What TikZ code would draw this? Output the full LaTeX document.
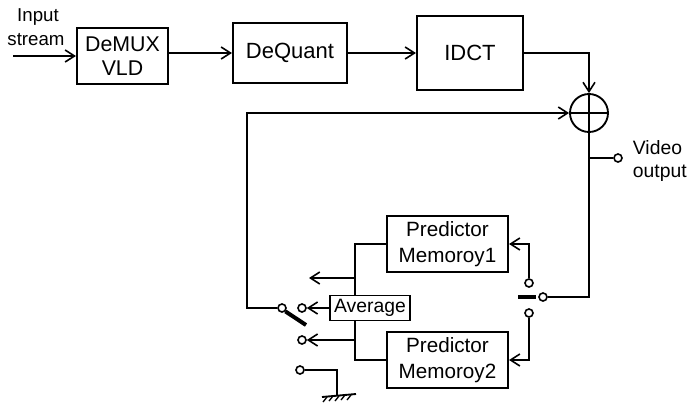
\documentclass[tikz,border=0pt]{standalone}
\usepackage{fontspec}
\setmainfont{Liberation Sans}
\usetikzlibrary{arrows.meta}
\tikzset{every picture/.style={line width=1.4pt}}
\tikzset{
  blk/.style={draw, line width=1.6pt, inner sep=0pt, align=center},
  term/.style={circle, draw, inner sep=0pt, minimum size=6pt, line width=1.2pt},
  arr/.style={-{Straight Barb[length=7pt,width=9pt,line width=1.2pt]}},
  blade/.style={line width=3pt}
}

\begin{document}
\begin{tikzpicture}[x=0.75pt,y=0.75pt,yscale=-1,xscale=1]
\useasboundingbox (0,0) rectangle (690,405);

%Shape: Rectangle [id:demux]
\node[blk, minimum width=68.25pt, minimum height=42pt, font=\fontsize{16}{18}\selectfont] (demux) at (122.5,56) {DeMUX\\VLD};
%Shape: Rectangle [id:dequant]
\node[blk, minimum width=85.5pt, minimum height=45pt, font=\fontsize{16.5}{18}\selectfont] (dequant) at (290,53) {DeQuant};
%Shape: Rectangle [id:idct]
\node[blk, minimum width=79.5pt, minimum height=55.5pt, font=\fontsize{16.5}{18}\selectfont] (idct) at (470,53) {IDCT};
%Shape: Circle [id:sum]
\node[circle, draw, inner sep=0pt, minimum size=28.5pt] (sum) at (589,113) {};
\draw (sum.north) -- (sum.south) (sum.west) -- (sum.east);
%Shape: Rectangle [id:pm1]
\node[blk, minimum width=90.75pt, minimum height=42pt, font=\fontsize{15.5}{19}\selectfont] (pm1) at (447.5,244) {Predictor\\Memoroy1};
%Shape: Rectangle [id:pm2]
\node[blk, minimum width=90.75pt, minimum height=42pt, font=\fontsize{15.5}{19}\selectfont] (pm2) at (447.5,360) {Predictor\\Memoroy2};
%Shape: Rectangle [id:avg]
\node[blk, line width=1.4pt, minimum width=60pt, minimum height=18.75pt, font=\fontsize{14.5}{15}\selectfont] (avg) at (370,308) {Average};

%Shape: Switch terminals
\node[term] (pivot) at (282,308) {};
\node[term] (c1) at (302,308) {};
\node[term] (c2) at (302,340) {};
\node[term] (c3) at (300,370) {};
\node[term] (rc) at (543,297) {};
\node[term] (up) at (529,283) {};
\node[term] (lo) at (529,313) {};
\node[term] (vout) at (618,158) {};

%Coordinates
\coordinate (in) at (13,56);
\coordinate (corner) at (247,113);
\coordinate (busT) at (355,244);
\coordinate (busB) at (355,360);
\coordinate (tipA) at (309,278);
\coordinate (gnd) at (337,370);
\coordinate (tap) at (589,158);

%Straight Lines [id:forward]
\draw[arr] (in) -- (demux.west);
\draw[arr] (demux.east |- dequant.west) -- (dequant.west);
\draw[arr] (dequant.east) -- (idct.west);
\draw[arr] (idct.east) -| (sum.north);
%Straight Lines [id:feedback]
\draw[arr] (pivot.west) -- (pivot -| corner) -- (corner) -- (sum.west);
\draw[blade] (pivot.south east) -- (306,325);
%Straight Lines [id:bus]
\draw (pm1.west) -- (busT) -- (busT |- avg.north);
\draw (busB |- avg.south) -- (busB) -- (pm2.west);
\draw[arr] (busT |- tipA) -- (tipA);
\draw[arr] (avg.west) -- (c1.east);
\draw[arr] (busB |- c2) -- (c2.east);
%Straight Lines [id:ground]
\draw (c3.east) -- (gnd) -- (337,396);
\draw (322,397) -- (356,394);
\draw[line width=1pt] (327,397) -- (323,402) (333,396) -- (329,401) (339,396) -- (335,401) (345,395) -- (341,400) (351,395) -- (347,400);
%Straight Lines [id:output]
\draw (sum.south) |- (rc.east);
\draw (tap) -- (vout.west);
\draw[blade] (518,297) -- (536,297);
\draw[arr] (up.north) |- (pm1.east);
\draw[arr] (lo.south) |- (pm2.east);

% Text Node
\node[font=\fontsize{14}{15}\selectfont] (lblin) at (38,17) {Input};
% Text Node
\node[font=\fontsize{14}{15}\selectfont] (lblst) at (36,40) {stream};
% Text Node
\node[anchor=west, align=left, inner sep=0pt, font=\fontsize{14.5}{17}\selectfont] (lblout) at (632,161) {Video\\output};

\end{tikzpicture}
\end{document}
